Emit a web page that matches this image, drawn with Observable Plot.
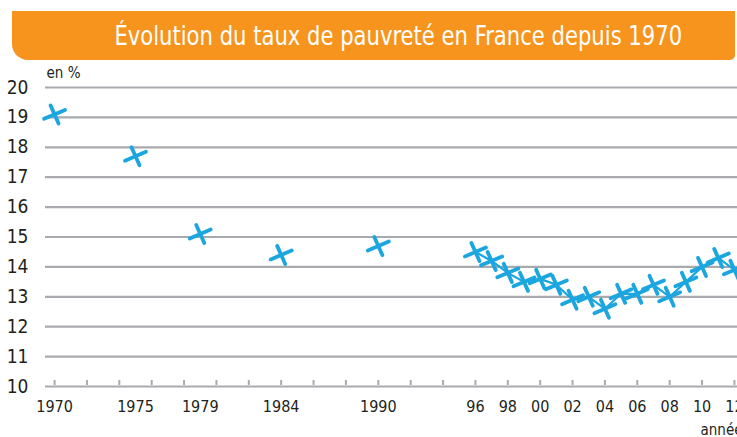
<!DOCTYPE html>
<html>
<head>
<meta charset="utf-8">
<script src="https://cdn.jsdelivr.net/npm/d3@7"></script>
<script src="https://cdn.jsdelivr.net/npm/@observablehq/plot@0.6"></script>
<style>
  html, body { margin: 0; padding: 0; background: #fff; width: 737px; height: 437px; overflow: hidden; }
  .wrap { padding-top: 11px; height: 62px; box-sizing: border-box; }
  .bar {
    margin-left: 12px; margin-right: 2px; height: 49px; background: #f7941d;
    border-radius: 0 0 5px 16px;
    text-align: center; box-sizing: border-box; padding-left: 50px; overflow: hidden;
  }
  .bar span {
    display: inline-block; color: #fff;
    font-family: "Liberation Sans Narrow", "DejaVu Sans Condensed", "Roboto", sans-serif;
    font-size: 27px; line-height: 49px; white-space: nowrap;
    transform: scaleX(0.87); transform-origin: center;
  }
  #chart svg { display: block; }
</style>
</head>
<body>
<div class="wrap"><div class="bar"><span>Évolution du taux de pauvreté en France depuis 1970</span></div></div>
<div id="chart"></div>
<script>
const years  = [1970, 1975, 1979, 1984, 1990, 1996, 1997, 1998, 1999, 2000, 2001, 2002, 2003, 2004, 2005, 2006, 2007, 2008, 2009, 2010, 2011, 2012];
const values = [19.1, 17.7, 15.1, 14.4, 14.7, 14.5, 14.2, 13.8, 13.5, 13.6, 13.4, 12.9, 13.0, 12.6, 13.1, 13.1, 13.4, 13.0, 13.5, 14.0, 14.3, 13.9];
const linkedFrom = 1996;
const yTicks = [10, 11, 12, 13, 14, 15, 16, 17, 18, 19, 20];
const xTickMarks = [1970, 1972, 1974, 1976, 1978, 1980, 1982, 1984, 1986, 1988, 1990, 1992, 1994, 1996, 1998, 2000, 2002, 2004, 2006, 2008, 2010, 2012];
const xLabelYears = [1970, 1975, 1979, 1984, 1990, 1996, 1998, 2000, 2002, 2004, 2006, 2008, 2010, 2012];
const xLabelTexts = ["1970", "1975", "1979", "1984", "1990", "96", "98", "00", "02", "04", "06", "08", "10", "12"];

const data = years.map((year, i) => ({year, value: values[i]}));
const labels = xLabelYears.map((year, i) => ({year, text: xLabelTexts[i]}));

const blue = "#1ba6df";
const grey = "#a8aaad";
const font = '"Liberation Sans Narrow", "DejaVu Sans Condensed", Roboto, sans-serif';

// hand-drawn looking tilted cross
const crossSymbol = {
  draw(ctx, size) {
    const r = Math.sqrt(size / Math.PI);
    const a1 = -23 * Math.PI / 180, l1 = r * 1.9;
    const a2 = 66 * Math.PI / 180, l2 = r * 1.65;
    ctx.moveTo(-l1 * Math.cos(a1), -l1 * Math.sin(a1));
    ctx.lineTo(l1 * Math.cos(a1), l1 * Math.sin(a1));
    ctx.moveTo(-l2 * Math.cos(a2), -l2 * Math.sin(a2));
    ctx.lineTo(l2 * Math.cos(a2), l2 * Math.sin(a2));
  }
};

const plot = Plot.plot({
  width: 737,
  height: 375,
  marginLeft: 45,
  marginRight: 0,
  marginTop: 25,
  marginBottom: 51,
  style: {fontFamily: font, color: "#231f20", background: "#fff", overflow: "hidden"},
  x: {domain: [1969.44, 2012.19], axis: null},
  y: {domain: [10, 20], axis: null},
  marks: [
    Plot.ruleY(yTicks, {stroke: grey, strokeWidth: 2.2}),
    Plot.axisX(xTickMarks, {tickSize: -5, stroke: grey, strokeWidth: 2, tickFormat: () => "", tickPadding: 0, label: null, dy: -1}),
    Plot.text(labels, {x: "year", text: "text", frameAnchor: "bottom", dy: 25, fontSize: 16, fill: "#231f20"}),
    Plot.text(yTicks, {y: d => d, text: d => String(d), frameAnchor: "left", dx: -17, textAnchor: "end", fontSize: 19, fill: "#231f20"}),
    Plot.text(["en %"], {frameAnchor: "top-left", dx: 1, dy: -20, textAnchor: "start", fontSize: 15, fill: "#231f20"}),
    Plot.text(["années"], {frameAnchor: "bottom-right", dx: -37, dy: 48, textAnchor: "start", fontSize: 15, fill: "#231f20"}),
    Plot.line(data.filter(d => d.year >= linkedFrom), {x: "year", y: "value", stroke: blue, strokeWidth: 2.2}),
    Plot.dot(data, {x: "year", y: "value", symbol: crossSymbol, r: 6, stroke: blue, fill: "none", strokeWidth: 3.8, strokeLinecap: "round"})
  ]
});
document.getElementById("chart").append(plot);
</script>
</body>
</html>
